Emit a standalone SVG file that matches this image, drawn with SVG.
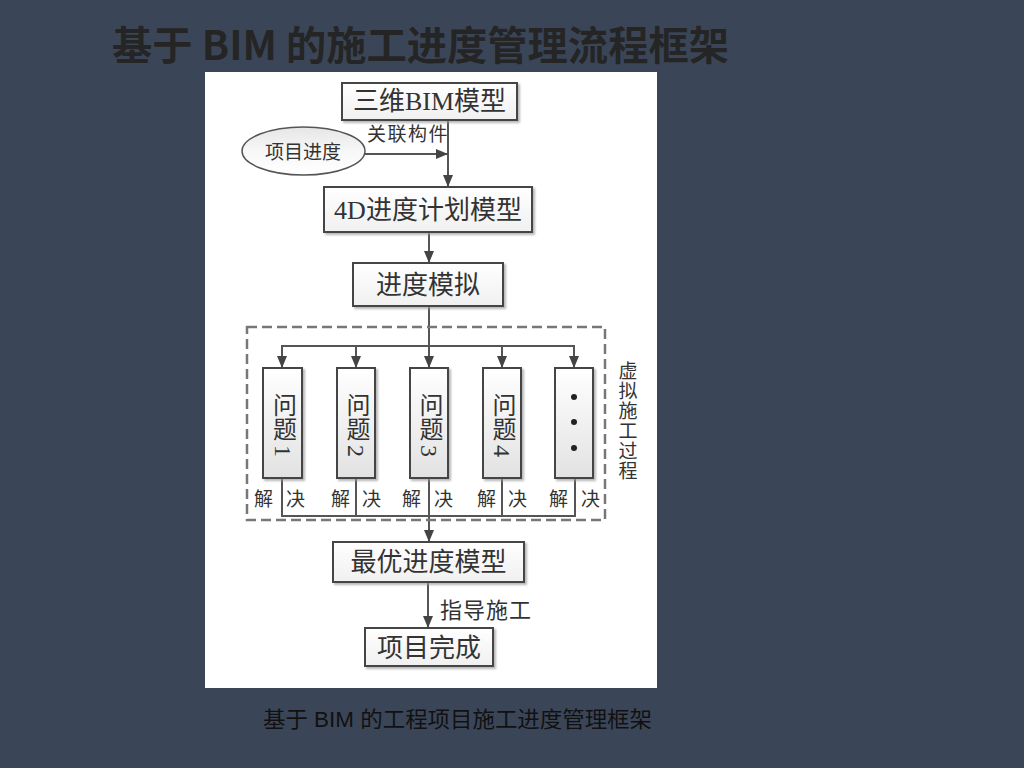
<svg xmlns="http://www.w3.org/2000/svg" width="1024" height="768" viewBox="0 0 1024 768">
<style>
.t{font-family:"Liberation Serif","Noto Sans CJK SC",serif;fill:#333;}
.box{fill:url(#gBox);stroke:#444;stroke-width:2;filter:url(#sh);}
.pbox{fill:url(#gP);stroke:#444;stroke-width:2;filter:url(#sh);}
.ln{fill:none;stroke:#555;stroke-width:2;}
.v{writing-mode:vertical-rl;}
</style>
<defs>
<linearGradient id="gBox" x1="0" y1="0" x2="0" y2="1"><stop offset="0" stop-color="#ffffff"/><stop offset="1" stop-color="#f0f0f0"/></linearGradient>
<linearGradient id="gP" x1="0" y1="0" x2="0" y2="1"><stop offset="0" stop-color="#ffffff"/><stop offset="1" stop-color="#e2e2e2"/></linearGradient>
<linearGradient id="gE" x1="0" y1="0" x2="0" y2="1"><stop offset="0" stop-color="#e6e6e6"/><stop offset="0.5" stop-color="#f7f7f7"/><stop offset="1" stop-color="#ffffff"/></linearGradient>
<filter id="sh" x="-10%" y="-10%" width="130%" height="130%"><feDropShadow dx="2" dy="2" stdDeviation="1" flood-color="#999" flood-opacity="0.7"/></filter>
<marker id="arr" markerUnits="userSpaceOnUse" markerWidth="12" markerHeight="10" viewBox="0 0 12 10" refX="12" refY="5" orient="auto">
<path d="M0,0 L12,5 L0,10 Z" fill="#444"/>
</marker>
</defs>
<rect x="0" y="0" width="1024" height="768" fill="#3b4558"/>
<text x="112" y="60" font-family="'Noto Sans CJK SC','Noto Sans',sans-serif" font-weight="bold" font-size="40" fill="#252525" textLength="617" lengthAdjust="spacingAndGlyphs">基于 BIM 的施工进度管理流程框架</text>
<rect x="205" y="72" width="452" height="616" fill="#ffffff"/>
<text x="263" y="727" font-family="'Liberation Sans','Noto Sans CJK SC',sans-serif" font-size="22" fill="#111" textLength="389" lengthAdjust="spacingAndGlyphs">基于 BIM 的工程项目施工进度管理框架</text>

<g id="connectors">
<line class="ln" x1="448" y1="120" x2="448" y2="187" marker-end="url(#arr)"/>
<line class="ln" x1="365" y1="154" x2="448" y2="154" marker-end="url(#arr)"/>
<line class="ln" x1="429" y1="232" x2="429" y2="263" marker-end="url(#arr)"/>
<line class="ln" x1="429" y1="306" x2="429" y2="346"/>
<line class="ln" x1="281" y1="346" x2="575" y2="346"/>
<line class="ln" x1="282" y1="346" x2="282" y2="368" marker-end="url(#arr)"/>
<line class="ln" x1="356" y1="346" x2="356" y2="368" marker-end="url(#arr)"/>
<line class="ln" x1="429" y1="346" x2="429" y2="368" marker-end="url(#arr)"/>
<line class="ln" x1="502" y1="346" x2="502" y2="368" marker-end="url(#arr)"/>
<line class="ln" x1="574" y1="346" x2="574" y2="368" marker-end="url(#arr)"/>
<polyline class="ln" points="282,478 282,516 575,516 575,478"/>
<line class="ln" x1="356" y1="478" x2="356" y2="516"/>
<line class="ln" x1="502" y1="478" x2="502" y2="516"/>
<line class="ln" x1="429" y1="478" x2="429" y2="542" marker-end="url(#arr)"/>
<line class="ln" x1="428" y1="582" x2="428" y2="628" marker-end="url(#arr)"/>
<rect x="247" y="327" width="358" height="193" fill="none" stroke="#777" stroke-width="2.5" stroke-dasharray="10,5"/>
</g>

<g id="n-bim">
<rect class="box" x="342" y="83" width="175" height="37"/>
<text class="t" x="429.5" y="110" font-size="26" text-anchor="middle">三维BIM模型</text>
</g>
<g id="n-schedule">
<ellipse cx="303.5" cy="151" rx="61.5" ry="24" fill="url(#gE)" stroke="#555" stroke-width="1.5"/>
<text class="t" x="303" y="159" font-size="19" text-anchor="middle">项目进度</text>
</g>
<g id="l-link">
<text class="t" x="367" y="141" font-size="19" letter-spacing="1.5">关联构件</text>
</g>
<g id="n-4d">
<rect class="box" x="324" y="187" width="208" height="45"/>
<text class="t" x="428" y="219" font-size="26" text-anchor="middle">4D进度计划模型</text>
</g>
<g id="n-sim">
<rect class="box" x="353" y="263" width="150" height="43"/>
<text class="t" x="428" y="294" font-size="26" text-anchor="middle">进度模拟</text>
</g>
<g id="n-p1">
<rect class="pbox" x="263" y="368" width="39" height="110"/>
<text class="t v" x="282.5" y="393" font-size="24">问题</text>
<text class="t" transform="translate(282.5,445) rotate(90)" x="0" y="8" font-size="24">1</text>
</g>
<g id="n-p2">
<rect class="pbox" x="337" y="368" width="38" height="110"/>
<text class="t v" x="356" y="393" font-size="24">问题</text>
<text class="t" transform="translate(356,445) rotate(90)" x="0" y="8" font-size="24">2</text>
</g>
<g id="n-p3">
<rect class="pbox" x="410" y="368" width="38" height="110"/>
<text class="t v" x="429" y="393" font-size="24">问题</text>
<text class="t" transform="translate(429,445) rotate(90)" x="0" y="8" font-size="24">3</text>
</g>
<g id="n-p4">
<rect class="pbox" x="483" y="368" width="38" height="110"/>
<text class="t v" x="502" y="393" font-size="24">问题</text>
<text class="t" transform="translate(502,445) rotate(90)" x="0" y="8" font-size="24">4</text>
</g>
<g id="n-p5">
<rect class="pbox" x="555" y="368" width="38" height="110"/>
<circle cx="574" cy="397" r="3" fill="#222"/>
<circle cx="574" cy="422" r="3" fill="#222"/>
<circle cx="574" cy="448" r="3" fill="#222"/>
</g>
<g id="labels-solve" class="t" font-size="19">
<text x="254" y="506">解</text><text x="286" y="506">决</text>
<text x="331" y="506">解</text><text x="362" y="506">决</text>
<text x="402" y="506">解</text><text x="434" y="506">决</text>
<text x="477" y="506">解</text><text x="508" y="506">决</text>
<text x="549" y="506">解</text><text x="581" y="506">决</text>
</g>
<g id="l-virtual">
<text class="t v" x="626" y="361" font-size="19" letter-spacing="1" fill="#555">虚拟施工过程</text>
</g>
<g id="n-opt">
<rect class="box" x="333" y="542" width="191" height="40"/>
<text class="t" x="428.5" y="571" font-size="26" text-anchor="middle">最优进度模型</text>
</g>
<g id="l-guide">
<text class="t" x="440" y="618" font-size="22" letter-spacing="1">指导施工</text>
</g>
<g id="n-done">
<rect class="box" x="365" y="628" width="128" height="38"/>
<text class="t" x="429" y="657" font-size="26" text-anchor="middle">项目完成</text>
</g>
</svg>
